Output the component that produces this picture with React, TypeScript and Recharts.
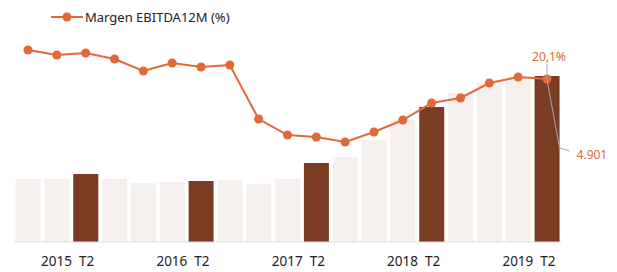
import React from 'react';
import { ComposedChart, Bar, Line, XAxis, YAxis, Cell, LabelList } from 'recharts';

const categories = [
  '2014 T4', '2015 T1', '2015 T2', '2015 T3', '2015 T4',
  '2016 T1', '2016 T2', '2016 T3', '2016 T4',
  '2017 T1', '2017 T2', '2017 T3', '2017 T4',
  '2018 T1', '2018 T2', '2018 T3', '2018 T4',
  '2019 T1', '2019 T2',
];
const ebitda12m = [1860, 1860, 2007, 1860, 1742, 1771, 1801, 1830, 1712, 1860, 2332, 2509, 3011, 3601, 3985, 4398, 4694, 4841, 4901];
const margen = [23.0, 22.5, 22.7, 22.1, 20.9, 21.7, 21.3, 21.5, 16.1, 14.5, 14.3, 13.8, 14.8, 16.0, 17.7, 18.2, 19.7, 20.3, 20.1];
const tickLabels = ['2015 T2', '2016 T2', '2017 T2', '2018 T2', '2019 T2'];
const legendLabel = 'Margen EBITDA12M (%)';

const data = categories.map((c, i) => ({ cat: c, ebitda: ebitda12m[i], margen: margen[i] }));

const ORANGE = '#e2683a';
const DARK = '#7a3c22';
const LIGHT = '#f5f0ed';
const LEADER = '#9aa8c4';
const FONT = '"Noto Sans", "DejaVu Sans", sans-serif';
const last = categories.length - 1;

const fmtThousands = (v: number) => String(v).replace(/\B(?=(\d{3})+(?!\d))/g, '.');

const Tick = (props: any) => {
  const { x, y, payload } = props;
  if (!tickLabels.includes(payload.value)) return null;
  return (
    <text x={x - 18} y={y + 16} textAnchor="middle" fontFamily={FONT} fontSize={13.5} fill="#222">
      {payload.value.replace(' ', '\u00a0 ')}
    </text>
  );
};

const LineLabel = (props: any) => {
  const { x, y, value, index } = props;
  if (index !== last) return null;
  return (
    <g>
      <line x1={x} y1={y - 15} x2={x} y2={y} stroke={LEADER} strokeWidth={1} />
      <text x={x + 2} y={y - 18} textAnchor="middle" fontFamily={FONT} fontSize={12} fill={ORANGE}>
        {String(value).replace('.', ',') + '%'}
      </text>
    </g>
  );
};

const BarLabel = (props: any) => {
  const { x, y, width, value, index } = props;
  if (index !== last) return null;
  const cx = x + width / 2;
  const ex = x + width;
  return (
    <g>
      <polyline points={`${cx},${y + 4} ${ex},${y + 72} ${ex + 10},${y + 75}`} fill="none" stroke={LEADER} strokeWidth={1} />
      <text x={ex + 17} y={y + 83} fontFamily={FONT} fontSize={12} fill={ORANGE}>
        {fmtThousands(value)}
      </text>
    </g>
  );
};

export default function App() {
  return (
    <div style={{ position: 'absolute', left: 0, top: 0, width: 617, height: 272, background: '#fff' }}>
      <div style={{ position: 'absolute', left: 51, top: 8, display: 'flex', alignItems: 'center', fontFamily: FONT, fontSize: 13, color: '#222', zIndex: 2 }}>
        <svg width={32} height={12} style={{ marginRight: 2 }}>
          <line x1={0} y1={6} x2={32} y2={6} stroke={ORANGE} strokeWidth={2} />
          <circle cx={16} cy={6} r={4.5} fill={ORANGE} />
        </svg>
        <span>{legendLabel}</span>
      </div>
      <ComposedChart width={617} height={272} data={data} margin={{ top: 30, right: 55.6, bottom: 0, left: 13.6 }}>
        <XAxis dataKey="cat" interval={0} tick={<Tick />} tickLine={false} axisLine={{ stroke: '#dcdcdc' }} height={30} />
        <YAxis yAxisId="bar" hide domain={[0, 6259]} />
        <YAxis yAxisId="line" hide domain={[3.8, 25]} />
        <Bar yAxisId="bar" dataKey="ebitda" barSize={25} isAnimationActive={false}>
          {data.map((d, i) => (
            <Cell key={i} fill={tickLabels.includes(d.cat) ? DARK : LIGHT} />
          ))}
          <LabelList dataKey="ebitda" content={<BarLabel />} />
        </Bar>
        <Line yAxisId="line" dataKey="margen" stroke={ORANGE} strokeWidth={2} dot={{ r: 4.5, fill: ORANGE, stroke: ORANGE, strokeWidth: 0 }} isAnimationActive={false}>
          <LabelList dataKey="margen" content={<LineLabel />} />
        </Line>
      </ComposedChart>
    </div>
  );
}
